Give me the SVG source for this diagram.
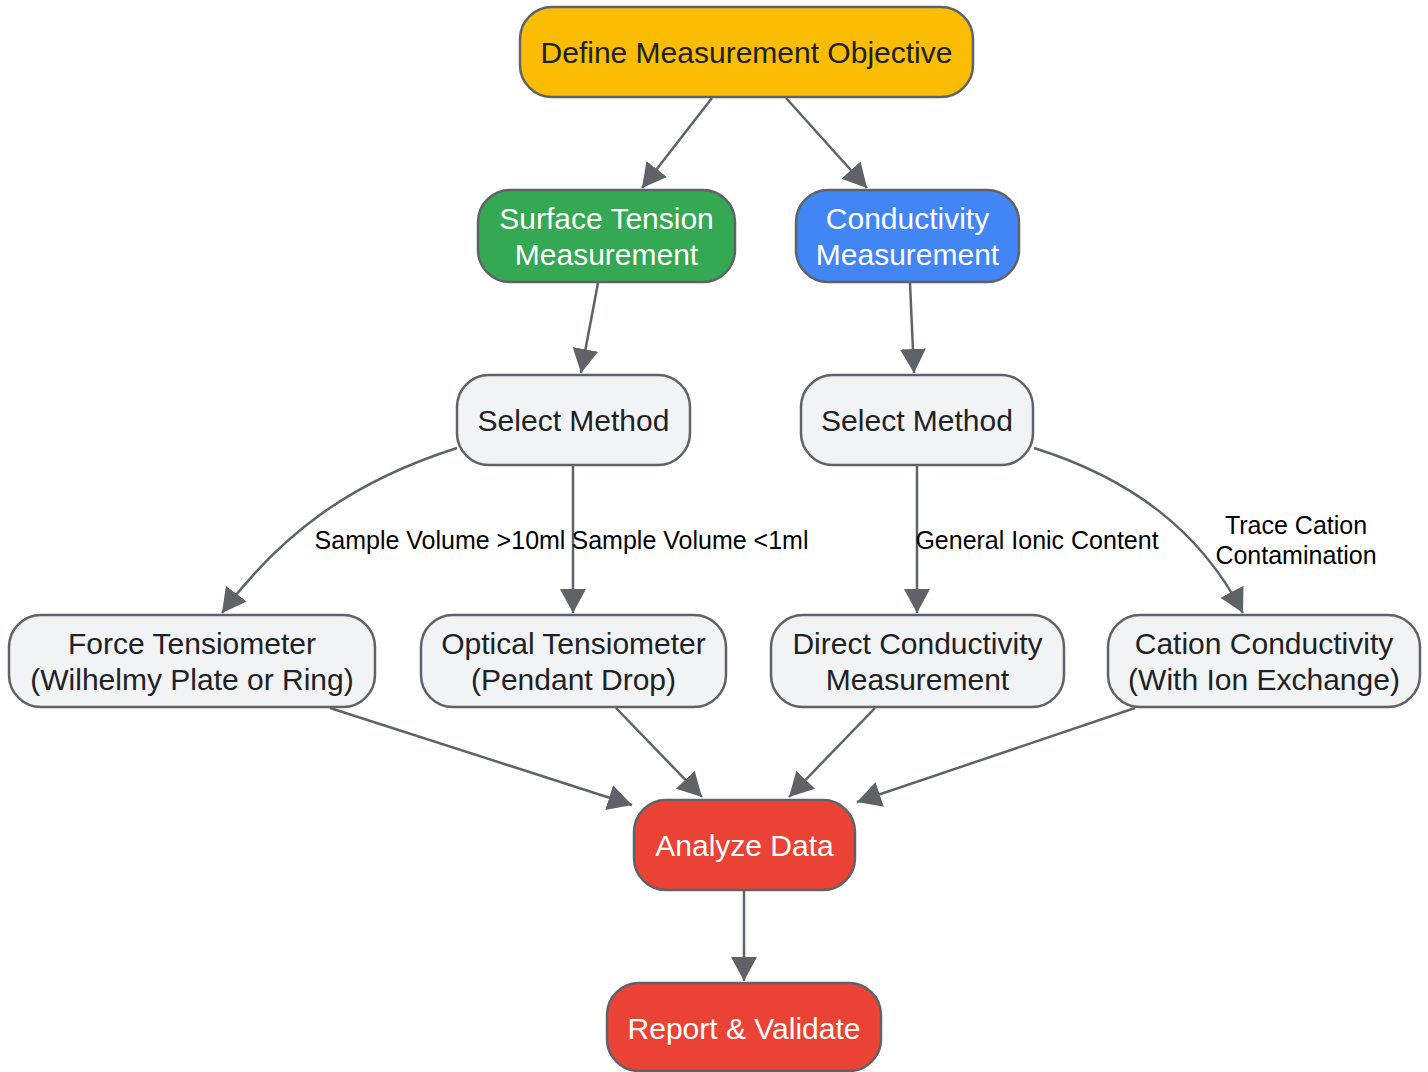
<svg xmlns="http://www.w3.org/2000/svg" width="1428" height="1072" viewBox="0 0 1428 1072">
<style>
.n rect{stroke:#5f6368;stroke-width:2.5}
.n text{font-family:"Liberation Sans",Arial,sans-serif;font-size:30px;text-anchor:middle;dominant-baseline:central}
.g rect{fill:#f1f3f4}
.g text{fill:#202124}
.w text{fill:#ffffff}
.e path{fill:none;stroke:#5f6368;stroke-width:2.5}
.lbl{font-family:"Liberation Sans",Arial,sans-serif;font-size:25px;fill:#000;text-anchor:middle;dominant-baseline:central}
</style>
<defs>
<marker id="ah" markerUnits="userSpaceOnUse" markerWidth="26" markerHeight="28" refX="24" refY="14" viewBox="0 0 26 28" orient="auto">
<path d="M0,1 L24,14 L0,27 z" fill="#5f6368"/>
</marker>
</defs>
<rect width="1428" height="1072" fill="#ffffff"/>
<g id="connectors" class="e">
<path d="M712,98 L642,188" marker-end="url(#ah)"/>
<path d="M786,98 L867,188" marker-end="url(#ah)"/>
<path d="M598,283 L581,373" marker-end="url(#ah)"/>
<path d="M910,283 L914,373" marker-end="url(#ah)"/>
<path d="M457,448 C350,482 280,535 222,613" marker-end="url(#ah)"/>
<path d="M573,465 L573,613" marker-end="url(#ah)"/>
<path d="M917,465 L917,613" marker-end="url(#ah)"/>
<path d="M1034,448 C1130,478 1200,530 1243,613" marker-end="url(#ah)"/>
<path d="M330,708 L632,805" marker-end="url(#ah)"/>
<path d="M616,708 L702,797" marker-end="url(#ah)"/>
<path d="M875,708 L789,797" marker-end="url(#ah)"/>
<path d="M1135,708 L857,802" marker-end="url(#ah)"/>
<path d="M744,890 L744,981" marker-end="url(#ah)"/>
</g>
<g id="edge-labels">
<text class="lbl" x="440" y="540">Sample Volume &gt;10ml</text>
<text class="lbl" x="690" y="540">Sample Volume &lt;1ml</text>
<text class="lbl" x="1037" y="540">General Ionic Content</text>
<text class="lbl" x="1296" y="525">Trace Cation</text>
<text class="lbl" x="1296" y="555">Contamination</text>
</g>
<g id="define" class="n"><rect x="520" y="7" width="453" height="90" rx="32" fill="#fbbc04"/><text x="746.5" y="52" fill="#202124">Define Measurement Objective</text></g>
<g id="surface" class="n w"><rect x="478" y="190" width="257" height="92" rx="32" fill="#34a853"/><text x="606.5" y="218">Surface Tension</text><text x="606.5" y="254">Measurement</text></g>
<g id="conductivity" class="n w"><rect x="796" y="190" width="223" height="92" rx="32" fill="#4285f4"/><text x="907.5" y="218">Conductivity</text><text x="907.5" y="254">Measurement</text></g>
<g id="select-left" class="n g"><rect x="457" y="375" width="233" height="90" rx="32"/><text x="573.5" y="420">Select Method</text></g>
<g id="select-right" class="n g"><rect x="801" y="375" width="232" height="90" rx="32"/><text x="917" y="420">Select Method</text></g>
<g id="force" class="n g"><rect x="9" y="615" width="366" height="92" rx="32"/><text x="192" y="643">Force Tensiometer</text><text x="192" y="679">(Wilhelmy Plate or Ring)</text></g>
<g id="optical" class="n g"><rect x="421" y="615" width="305" height="92" rx="32"/><text x="573.5" y="643">Optical Tensiometer</text><text x="573.5" y="679">(Pendant Drop)</text></g>
<g id="direct" class="n g"><rect x="771" y="615" width="293" height="92" rx="32"/><text x="917.5" y="643">Direct Conductivity</text><text x="917.5" y="679">Measurement</text></g>
<g id="cation" class="n g"><rect x="1108" y="615" width="312" height="92" rx="32"/><text x="1264" y="643">Cation Conductivity</text><text x="1264" y="679">(With Ion Exchange)</text></g>
<g id="analyze" class="n w"><rect x="634" y="800" width="221" height="90" rx="32" fill="#ea4335"/><text x="744.5" y="845">Analyze Data</text></g>
<g id="report" class="n w"><rect x="607" y="983" width="274" height="88" rx="32" fill="#ea4335"/><text x="744" y="1028">Report &amp; Validate</text></g>
</svg>
